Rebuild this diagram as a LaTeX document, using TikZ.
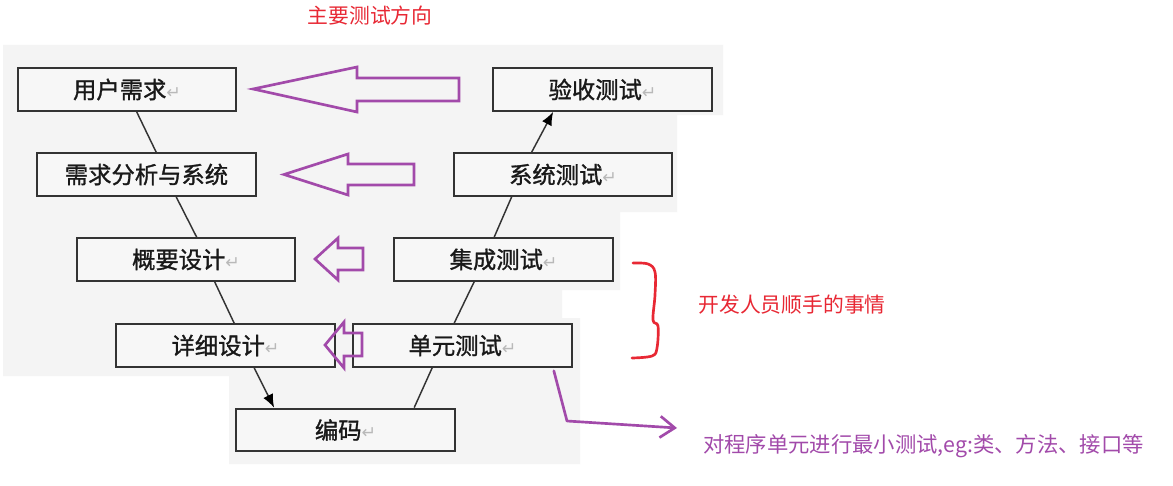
\documentclass[tikz,border=0pt]{standalone}
\usepackage{fontspec}
\setmainfont{Noto Sans CJK SC}
\newfontfamily\boxfont[FakeBold=1.2]{Noto Sans CJK SC}
\newfontfamily\dejavu{DejaVu Sans}
\usetikzlibrary{arrows.meta,calc}
\definecolor{bggray}{HTML}{F4F4F4}
\definecolor{boxfill}{HTML}{F7F7F7}
\definecolor{boxline}{HTML}{333333}
\definecolor{vline}{HTML}{333333}
\definecolor{ppl}{RGB}{162,74,170}
\definecolor{rd}{RGB}{232,40,52}
\newcommand{\retmark}{{\color{gray!55}\dejavu\fontsize{13}{14}\selectfont ↵}}
\tikzset{
  vbox/.style={draw=boxline, line width=1.5pt, fill=boxfill, minimum width=164pt,
    minimum height=32pt, inner sep=0pt, text=black!90, font=\boxfont\fontsize{17.5}{20}\selectfont},
  vconn/.style={draw=vline, line width=1.1pt},
  vtip/.style={vconn, -{Latex[length=10pt,width=8pt,black]}},
  hollow/.style={draw=ppl, line width=2pt, line join=miter},
  note/.style={inner sep=0pt, font=\fontsize{15.6}{18}\selectfont}
}
\begin{document}
\begin{tikzpicture}[x=0.75pt,y=-0.75pt]
\useasboundingbox (0,0) rectangle (1173,485);
\fill[white] (0,0) rectangle (1173,485);
% background panel
\fill[bggray] (3,45) -- (723,45) -- (723,115) -- (677,115) -- (677,212) -- (620,212)
  -- (620,290) -- (562,290) -- (562,318) -- (580,318) -- (580,464) -- (229,464)
  -- (229,376) -- (3,376) -- cycle;

% boxes
\node[vbox] (A) at (127,89.5) {用户需求\retmark};
\node[vbox] (B) at (146.5,174.5) {需求分析与系统};
\node[vbox] (C) at (186,259.5) {概要设计\retmark};
\node[vbox] (D) at (225.5,345.5) {详细设计\retmark};
\node[vbox] (E) at (345.5,430) {编码\retmark};
\node[vbox] (F) at (462.5,345.5) {单元测试\retmark};
\node[vbox] (G) at (503.5,259.5) {集成测试\retmark};
\node[vbox] (H) at (563,174.5) {系统测试\retmark};
\node[vbox] (I) at (602.5,89.5) {验收测试\retmark};

% V connectors
\draw[vconn] ($(A.south west)+(120,0)$) -- ($(B.north west)+(120,0)$);
\draw[vconn] ($(B.south west)+(140,0)$) -- ($(C.north west)+(121,0)$);
\draw[vconn] ($(C.south west)+(139,0)$) -- ($(D.north west)+(119,0)$);
\draw[vtip]  ($(D.south west)+(139,0)$) -- ($(E.north west)+(39,0)$);
\draw[vconn] ($(E.north west)+(179,0)$) -- ($(F.south west)+(80,0)$);
\draw[vconn] ($(F.north west)+(102,0)$) -- ($(G.south west)+(81,0)$);
\draw[vconn] ($(G.north west)+(101,0)$) -- ($(H.south west)+(59,0)$);
\draw[vtip]  ($(H.north west)+(79,0)$) -- ($(I.south west)+(61,0)$);

% hollow purple arrows
\draw[hollow] (253,89) -- (357,67) -- (357,78) -- (459,78) -- (459,101) -- (357,101) -- (357,112) -- cycle;
\draw[hollow] (284,174.5) -- (348,154) -- (348,164) -- (414,164) -- (414,185) -- (348,185) -- (348,195) -- cycle;
\draw[hollow] (315,259) -- (338,238) -- (338,248) -- (363,248) -- (363,270) -- (338,270) -- (338,280) -- cycle;
\draw[hollow] (325,345) -- (344,322) -- (344,333) -- (362,333) -- (362,356) -- (344,356) -- (344,368) -- cycle;

% red brace
\draw[rd, line width=2pt, line cap=round, line join=round]
  plot[smooth, tension=0.6] coordinates {(633,263) (648,264) (655,272) (655,295) (653,320) (658,326) (657,348) (652,356) (632,358)};

% purple pointer from unit test
\coordinate (P) at (677,428);
\draw[ppl, line width=2pt, line cap=round, line join=round, -{Straight Barb[length=11pt,width=16pt,line width=2pt]}]
  ($(F.south east)+(-19,3)$) -- (567,421) -- (P);

% labels
\node[note, text=rd] (T1) at (370,16) {主要测试方向};
\node[note, text=rd] (T2) at (792,305) {开发人员顺手的事情};
\node[note, text=ppl, anchor=west, font=\fontsize{16}{18}\selectfont] (T3) at (703,446) {对程序单元进行最小测试,eg:类、方法、接口等};
\end{tikzpicture}
\end{document}
